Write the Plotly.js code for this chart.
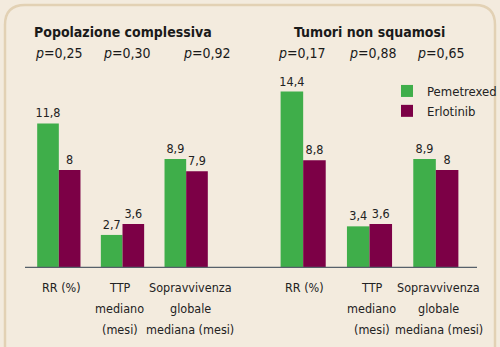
<!DOCTYPE html>
<html>
<head>
<meta charset="utf-8">
<script src="https://cdn.plot.ly/plotly-3.0.1.min.js"></script>
<style>html,body{margin:0;padding:0;background:#f3ebde;}#chart{width:500px;height:347px;}</style>
</head>
<body>
<div id="chart"></div>
<script>
// ---- data ----
const categories = ["RR", "TTP", "OS"];
const categoryLines = [["RR (%)"], ["TTP", "mediano", "(mesi)"], ["Sopravvivenza", "globale", "mediana (mesi)"]];
const panelTitles = ["Popolazione complessiva", "Tumori non squamosi"];
const pemetrexedAll = [11.8, 2.7, 8.9];
const erlotinibAll = [8, 3.6, 7.9];
const pemetrexedNonSq = [14.4, 3.4, 8.9];
const erlotinibNonSq = [8.8, 3.6, 8];
const pValuesAll = ["0,25", "0,30", "0,92"];
const pValuesNonSq = ["0,17", "0,88", "0,65"];
const seriesNames = ["Pemetrexed", "Erlotinib"];

const FONT = '"DejaVu Sans Condensed", "DejaVu Sans", sans-serif';
const GREEN = '#3fae4a';
const MAROON = '#7c0046';
const fmt = v => String(v).replace('.', ',');
const W = 500, H = 347, MT = 72, MB = 79;
const PH = H - MT - MB;
const px = x => x / W;              // figure px -> paper x
const py = y => (H - MB - y) / PH;  // figure px -> paper y

function bar(name, x, y, color, xaxis, showlegend) {
  return {
    type: 'bar', name: name, x: x, y: y, xaxis: xaxis, yaxis: 'y',
    marker: {color: color},
    text: y.map(fmt), textposition: 'outside', cliponaxis: false, constraintext: 'none',
    textfont: {family: FONT, size: 12.5, color: '#222'},
    showlegend: showlegend, hoverinfo: 'skip'
  };
}

const traces = [
  bar(seriesNames[0], categories, pemetrexedAll, GREEN, 'x', true),
  bar(seriesNames[1], categories, erlotinibAll, MAROON, 'x', true),
  bar(seriesNames[0], categories, pemetrexedNonSq, GREEN, 'x2', false),
  bar(seriesNames[1], categories, erlotinibNonSq, MAROON, 'x2', false)
];

const annotations = [];
function addPanel(title, pvals, pxs, catShift, xref) {
  annotations.push({xref: xref + ' domain', yref: 'paper', x: 0.5, y: py(32), xanchor: 'center', yanchor: 'middle',
    text: '<b>' + title + '</b>', showarrow: false, font: {family: FONT, size: 14, color: '#1a1a1a'}});
  pvals.forEach((p, i) => annotations.push({xref: 'paper', yref: 'paper', x: px(pxs[i]), y: py(53),
    xanchor: 'center', yanchor: 'middle',
    text: '<i>p</i>=' + p, showarrow: false, font: {family: FONT, size: 14, color: '#1a1a1a'}}));
  categoryLines.forEach((lines, i) => lines.forEach((t, j) => annotations.push({
    xref: xref, yref: 'paper', x: categories[i], y: py(287 + 21 * j), text: t, showarrow: false,
    xanchor: 'center', yanchor: 'middle', xshift: catShift[i],
    font: {family: FONT, size: 12.5, color: '#222'}})));
}
addPanel(panelTitles[0], pValuesAll, [59, 127, 207], [3, -3, 4], 'x');
addPanel(panelTitles[1], pValuesNonSq, [302, 373, 441], [1, 2, 3], 'x2');

const axisCommon = {type: 'category', range: [-0.5, 2.5], autorange: false, showgrid: false, zeroline: false,
  showline: false, ticks: '', showticklabels: false, fixedrange: true, anchor: 'y'};

const layout = {
  width: W, height: H,
  margin: {l: 0, r: 0, t: MT, b: MB, autoexpand: false},
  paper_bgcolor: '#f3ebde', plot_bgcolor: 'rgba(0,0,0,0)',
  barmode: 'group', bargap: 0.32, bargroupgap: 0,
  font: {family: FONT, color: '#222'},
  xaxis: Object.assign({domain: [px(27), px(218)]}, axisCommon),
  xaxis2: Object.assign({domain: [px(270), px(469)]}, axisCommon),
  yaxis: {range: [0, 16], autorange: false, visible: false, fixedrange: true},
  showlegend: true,
  legend: {x: px(387), y: py(76), xanchor: 'left', yanchor: 'top', bgcolor: 'rgba(0,0,0,0)',
    font: {family: FONT, size: 13, color: '#222'}, tracegroupgap: 0, itemwidth: 30},
  annotations: annotations,
  shapes: [
    {type: 'path', xref: 'paper', yref: 'paper', layer: 'below',
     path: `M ${px(5)},${py(370)} L ${px(5)},${py(25)} Q ${px(5)},${py(5)} ${px(25)},${py(5)} L ${px(475)},${py(5)} Q ${px(495)},${py(5)} ${px(495)},${py(25)} L ${px(495)},${py(370)}`,
     line: {color: '#e2d1b4', width: 2.5}},
    {type: 'line', xref: 'paper', yref: 'y', x0: px(25), x1: px(477), y0: 0, y1: 0, layer: 'above',
     line: {color: '#56606a', width: 2.5}}
  ]
};

Plotly.newPlot('chart', traces, layout, {displayModeBar: false, staticPlot: true});
</script>
</body>
</html>
